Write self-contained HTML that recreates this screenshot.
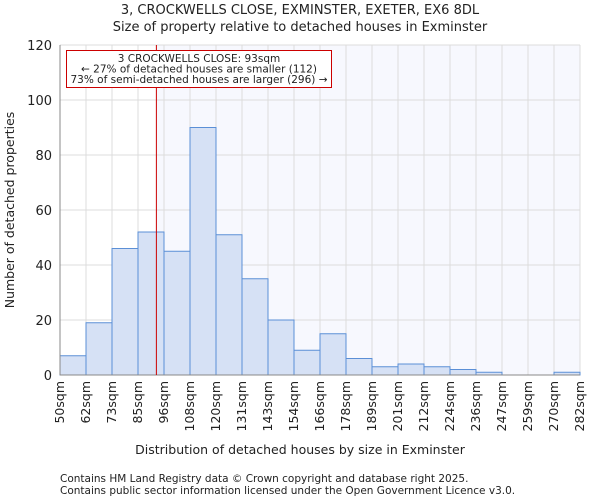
<!DOCTYPE html>
<html><head><meta charset="utf-8"><style>
body{margin:0;background:#fff;font-family:"DejaVu Sans","Liberation Sans",sans-serif;}
svg text{font-family:"DejaVu Sans","Liberation Sans",sans-serif;fill:#222;}
</style></head><body>
<svg id="c" width="600" height="500">
<text x="300" y="14" font-size="13" text-anchor="middle">3, CROCKWELLS CLOSE, EXMINSTER, EXETER, EX6 8DL</text>
<text x="300" y="31" font-size="13" text-anchor="middle">Size of property relative to detached houses in Exminster</text>
<g id="g"></g>
<text x="300" y="454" font-size="12.5" text-anchor="middle">Distribution of detached houses by size in Exminster</text>
<text x="14" y="210" font-size="12.5" text-anchor="middle" transform="rotate(-90 14 210)">Number of detached properties</text>
<text x="60" y="482" font-size="10.5">Contains HM Land Registry data © Crown copyright and database right 2025.</text>
<text x="60" y="494" font-size="10.5">Contains public sector information licensed under the Open Government Licence v3.0.</text>
</svg>
<script>
const labels=["50sqm","62sqm","73sqm","85sqm","96sqm","108sqm","120sqm","131sqm","143sqm","154sqm","166sqm","178sqm","189sqm","201sqm","212sqm","224sqm","236sqm","247sqm","259sqm","270sqm","282sqm"];
const edges=[50,61.6,73.2,84.8,96.4,108,119.6,131.2,142.8,154.4,166,177.6,189.2,200.8,212.4,224,235.6,247.2,258.8,270.4,282];
const counts=[7,19,46,52,45,90,51,35,20,9,15,6,3,4,3,2,1,0,0,1];
const yTicks=[0,20,40,60,80,100,120];
const marker=93;
const L=60,R=580,T=45,B=375;
const xs=v=>L+(v-edges[0])/(edges[edges.length-1]-edges[0])*(R-L);
const ys=v=>B-v/120*(B-T);
const NS="http://www.w3.org/2000/svg",g=document.getElementById('g');
function mk(t,a){const e=document.createElementNS(NS,t);for(const k in a)e.setAttribute(k,a[k]);g.appendChild(e);return e;}
let e=mk('rect',{x:L,y:T,width:R-L,height:B-T,fill:'#fff'});


e=mk('rect',{x:xs(marker),y:T,width:R-xs(marker),height:B-T,fill:'#f7f8fe'});


yTicks.forEach(v=>{const l=mk('line',{x1:L,x2:R,y1:ys(v),y2:ys(v),stroke:'#dcdcdc','stroke-width':1});


const t=mk('text',{x:L-8,y:ys(v)+5,'font-size':13,'text-anchor':'end'});t.textContent=v;

});
edges.forEach((v,i)=>{const l=mk('line',{x1:xs(v),x2:xs(v),y1:T,y2:B,stroke:'#dcdcdc','stroke-width':1});


const x=xs(v)+4,y=B+6;const t=mk('text',{x:x,y:y,'font-size':12.5,'text-anchor':'end',transform:`rotate(-90 ${x} ${y})`});t.textContent=labels[i];

});
counts.forEach((c,i)=>{if(c<=0)return;const r=mk('rect',{x:xs(edges[i]),y:ys(c),width:xs(edges[i+1])-xs(edges[i]),height:B-ys(c),fill:'#d6e1f5',stroke:'#5b8fd6','stroke-width':1});

});
e=mk('line',{x1:L,x2:L,y1:T,y2:B,stroke:'#888'});


e=mk('line',{x1:L,x2:R,y1:B,y2:B,stroke:'#888'});


e=mk('line',{x1:xs(marker),x2:xs(marker),y1:T,y2:B,stroke:'#cc0000','stroke-width':1});


e=mk('rect',{x:66.5,y:50.5,width:265,height:37,fill:'#fff',stroke:'#cc0000','stroke-width':1});


["3 CROCKWELLS CLOSE: 93sqm","← 27% of detached houses are smaller (112)","73% of semi-detached houses are larger (296) →"].forEach((s,i)=>{const t=mk('text',{x:199,y:62+i*10.5,'font-size':10.5,'text-anchor':'middle'});t.textContent=s;

});
</script>
</body></html>
